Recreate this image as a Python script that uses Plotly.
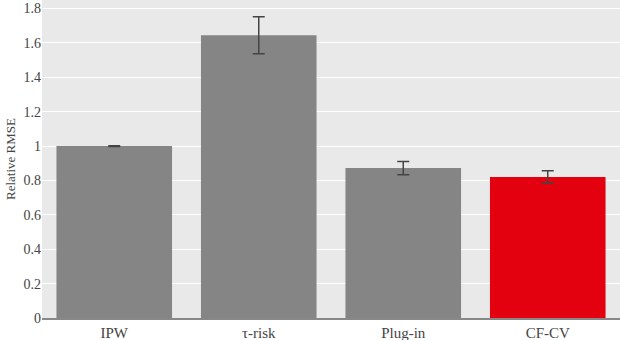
import plotly.graph_objects as go

methods = ["IPW", "τ-risk", "Plug-in", "CF-CV"]
rel_rmse = [1.0, 1.645, 0.872, 0.820]
err = [0.002, 0.107, 0.038, 0.036]
colors = ["#858585", "#858585", "#858585", "#e3000f"]

serif = "Liberation Serif, Times New Roman, serif"

fig = go.Figure()
fig.add_trace(go.Bar(
    x=methods, y=rel_rmse,
    marker=dict(color=colors, line=dict(width=0)),
    error_y=dict(type="data", array=err, color="#444444", thickness=1.5, width=6),
))

fig.update_layout(
    width=620, height=340,
    margin=dict(l=42, r=0, t=0, b=22),
    paper_bgcolor="white", plot_bgcolor="#e9e9e9",
    font=dict(family=serif, size=14, color="#444444"),
    bargap=0.2,
    showlegend=False,
    xaxis=dict(showline=True, linecolor="#888888", linewidth=1.5, ticks="",
               tickfont=dict(family=serif, size=15), automargin=False),
    yaxis=dict(range=[0, 1.85], dtick=0.2, gridcolor="white", gridwidth=1,
               zeroline=False, ticks="", automargin=False,
               tickfont=dict(family=serif, size=14),
               title=dict(text="Relative RMSE", font=dict(family=serif, size=13),
                          standoff=4)),
)

# page body has a default 8px margin, drop it so the figure fills the window
fig.write_html("out.html", config={"displayModeBar": False},
               post_script="document.body.style.margin='0';")
